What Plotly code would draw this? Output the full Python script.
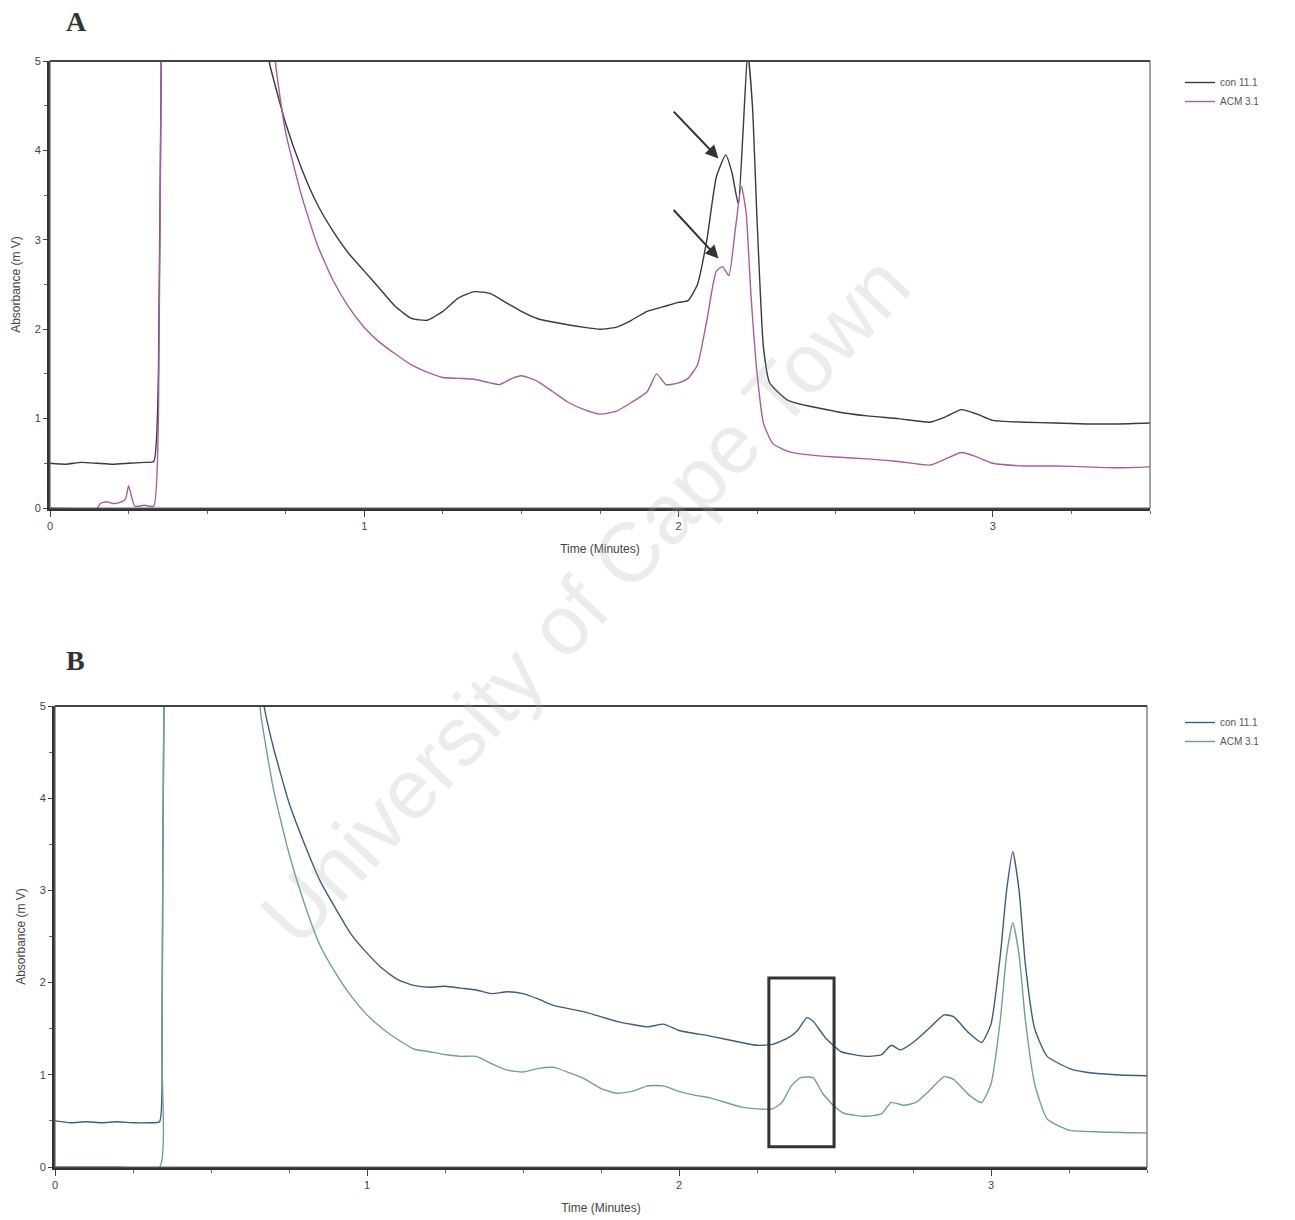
import plotly.graph_objects as go

# ---------------- Panel A data ----------------
a_con_t = [0.0, 0.05, 0.1, 0.15, 0.2, 0.25, 0.3, 0.33, 0.345, 0.355, 0.37, 0.5, 0.68,
           0.70, 0.75, 0.80, 0.85, 0.90, 0.95, 1.00, 1.05, 1.10, 1.15, 1.2, 1.25, 1.3, 1.35,
           1.4, 1.45, 1.5, 1.55, 1.6, 1.7, 1.75, 1.8, 1.85, 1.9, 1.95, 2.0, 2.03, 2.06, 2.09,
           2.12, 2.15, 2.17, 2.19, 2.205, 2.22, 2.235, 2.25, 2.27, 2.29, 2.35, 2.5, 2.6, 2.7,
           2.8, 2.85, 2.9, 2.95, 3.0, 3.1, 3.2, 3.3, 3.4, 3.5]
a_con_v = [0.5, 0.49, 0.51, 0.5, 0.49, 0.5, 0.51, 0.52, 1.5, 5.5, 7.0, 7.0, 5.3,
           4.95, 4.3, 3.8, 3.4, 3.1, 2.85, 2.65, 2.45, 2.25, 2.12, 2.1, 2.2, 2.35, 2.42,
           2.4, 2.3, 2.2, 2.12, 2.08, 2.02, 2.0, 2.02, 2.1, 2.2, 2.25, 2.3, 2.32, 2.5, 3.0,
           3.7, 3.95, 3.75, 3.4, 4.2, 5.1, 4.5, 3.2, 1.8, 1.4, 1.2, 1.08, 1.03, 1.0,
           0.96, 1.02, 1.1, 1.05, 0.98, 0.96, 0.95, 0.94, 0.94, 0.95]

a_acm_t = [0.0, 0.15, 0.16, 0.18, 0.2, 0.22, 0.24, 0.25, 0.26, 0.27, 0.3, 0.33, 0.345, 0.355,
           0.37, 0.5, 0.70, 0.72, 0.75, 0.8, 0.85, 0.9, 0.95, 1.0, 1.05, 1.1, 1.15, 1.2,
           1.25, 1.3, 1.35, 1.4, 1.43, 1.47, 1.5, 1.55, 1.6, 1.65, 1.7, 1.75, 1.8, 1.85,
           1.9, 1.93, 1.96, 2.0, 2.03, 2.06, 2.09, 2.12, 2.14, 2.16, 2.18, 2.2, 2.215, 2.23,
           2.25, 2.27, 2.3, 2.35, 2.4, 2.5, 2.6, 2.7, 2.8, 2.85, 2.9, 2.95, 3.0, 3.1, 3.2,
           3.3, 3.4, 3.5]
a_acm_v = [0.0, 0.0, 0.05, 0.07, 0.05, 0.06, 0.1, 0.25, 0.12, 0.02, 0.03, 0.02, 1.0, 5.5,
           7.0, 7.0, 5.5, 4.9, 4.2, 3.5, 2.95, 2.55, 2.25, 2.02, 1.85, 1.72, 1.6, 1.52,
           1.46, 1.45, 1.44, 1.4, 1.38, 1.45, 1.48, 1.42, 1.3, 1.18, 1.1, 1.05, 1.08, 1.18,
           1.3, 1.5, 1.38, 1.4, 1.45, 1.6, 2.1, 2.65, 2.7, 2.6, 3.1, 3.6, 3.3, 2.4,
           1.5, 0.95, 0.72, 0.63, 0.6, 0.57, 0.55, 0.52, 0.48, 0.55, 0.62, 0.57, 0.5, 0.47, 0.47,
           0.46, 0.45, 0.46]

# ---------------- Panel B data ----------------
b_con_t = [0.0, 0.05, 0.1, 0.15, 0.2, 0.25, 0.3, 0.335, 0.343, 0.35, 0.37, 0.5, 0.65,
           0.67, 0.7, 0.75, 0.8, 0.85, 0.9, 0.95, 1.0, 1.05, 1.1, 1.15, 1.2, 1.25, 1.3, 1.35,
           1.4, 1.45, 1.5, 1.55, 1.6, 1.7, 1.8, 1.9, 1.95, 2.0, 2.1, 2.2, 2.25, 2.3, 2.35,
           2.38, 2.41, 2.43, 2.47, 2.52, 2.6, 2.65, 2.68, 2.71, 2.75, 2.8, 2.85, 2.88, 2.93,
           2.97, 3.0, 3.03, 3.05, 3.07, 3.09, 3.11, 3.14, 3.18, 3.25, 3.3, 3.4, 3.5]
b_con_v = [0.5, 0.48, 0.49, 0.48, 0.49, 0.48, 0.48, 0.49, 1.5, 5.5, 7.0, 7.0, 5.6,
           5.0, 4.55, 3.95, 3.5, 3.1, 2.8, 2.52, 2.32, 2.15, 2.03, 1.97, 1.95, 1.96, 1.94, 1.92,
           1.88, 1.9, 1.88, 1.82, 1.75, 1.68, 1.58, 1.52, 1.55, 1.48, 1.42, 1.35, 1.32, 1.33, 1.4,
           1.48, 1.62, 1.58, 1.4, 1.25, 1.2, 1.22, 1.32, 1.27, 1.35, 1.5, 1.65, 1.63, 1.45,
           1.35, 1.55, 2.3, 3.0, 3.42, 3.0, 2.2, 1.5, 1.2, 1.07, 1.03, 1.0, 0.99]

b_acm_t = [0.0, 0.2, 0.335, 0.343, 0.35, 0.37, 0.5, 0.64, 0.66, 0.7, 0.75, 0.8, 0.85, 0.9,
           0.95, 1.0, 1.05, 1.1, 1.15, 1.2, 1.25, 1.3, 1.35, 1.4, 1.45, 1.5, 1.55, 1.6, 1.65,
           1.7, 1.75, 1.8, 1.85, 1.9, 1.95, 2.0, 2.05, 2.1, 2.15, 2.2, 2.25, 2.3, 2.33, 2.36,
           2.39, 2.43, 2.46, 2.5, 2.53, 2.6, 2.65, 2.68, 2.72, 2.76, 2.8, 2.85, 2.88, 2.93,
           2.97, 3.0, 3.03, 3.05, 3.07, 3.09, 3.11, 3.14, 3.18, 3.25, 3.35, 3.5]
b_acm_v = [0.0, 0.0, 0.0, 1.2, 5.5, 7.0, 7.0, 5.6, 4.9, 4.1, 3.4, 2.85, 2.4, 2.1,
           1.85, 1.65, 1.5, 1.38, 1.28, 1.25, 1.22, 1.2, 1.2, 1.12, 1.05, 1.03, 1.07, 1.08, 1.02,
           0.95, 0.85, 0.8, 0.82, 0.88, 0.88, 0.82, 0.78, 0.75, 0.7, 0.65, 0.63, 0.63, 0.7, 0.88,
           0.97, 0.97, 0.8, 0.65, 0.58, 0.55, 0.58, 0.7, 0.67, 0.7, 0.82, 0.98, 0.95, 0.78,
           0.7, 0.9, 1.6, 2.3, 2.65, 2.3, 1.6, 0.9, 0.52, 0.4, 0.38, 0.37]

series_names = ["con 11.1", "ACM 3.1"]
x_ticks = [0, 1, 2, 3]
y_ticks = [0, 1, 2, 3, 4, 5]

W, H = 1295, 1220
def px_x(p): return p / W
def px_y(p): return 1 - p / H

A_COL = ["#3a3a3a", "#a2609c"]
B_COL = ["#3f5d7a", "#72a090"]

def line(c):
    return dict(color=c, width=1.4, shape="spline", smoothing=0.5)

fig = go.Figure()
fig.add_trace(go.Scatter(x=a_con_t, y=a_con_v, mode="lines", name=series_names[0],
                         line=line(A_COL[0]), xaxis="x", yaxis="y", legend="legend"))
fig.add_trace(go.Scatter(x=a_acm_t, y=a_acm_v, mode="lines", name=series_names[1],
                         line=line(A_COL[1]), xaxis="x", yaxis="y", legend="legend"))
fig.add_trace(go.Scatter(x=b_con_t, y=b_con_v, mode="lines", name=series_names[0],
                         line=line(B_COL[0]), xaxis="x2", yaxis="y2", legend="legend2"))
fig.add_trace(go.Scatter(x=b_acm_t, y=b_acm_v, mode="lines", name=series_names[1],
                         line=line(B_COL[1]), xaxis="x2", yaxis="y2", legend="legend2"))

tickfont = dict(family="Arial, Liberation Sans, sans-serif", size=11, color="#444")
titlefont = dict(family="Arial, Liberation Sans, sans-serif", size=12, color="#444")

def xax(domain, anchor):
    return dict(domain=domain, anchor=anchor, range=[0, 3.5], tickvals=x_ticks,
                ticks="outside", ticklen=6, tickcolor="#444", tickfont=tickfont,
                showgrid=False, zeroline=False, showline=True, linewidth=3, linecolor="#333",
                automargin=False,
                minor=dict(dtick=0.25, ticks="outside", ticklen=3, tickcolor="#666"),
                title=dict(text="Time (Minutes)", font=titlefont, standoff=14))

def yax(domain, anchor):
    return dict(domain=domain, anchor=anchor, range=[0, 5], tickvals=y_ticks,
                ticks="outside", ticklen=4, tickcolor="#444", tickfont=tickfont,
                showgrid=False, zeroline=False, showline=True, linewidth=3, linecolor="#333",
                automargin=False,
                minor=dict(dtick=0.5, ticks="outside", ticklen=3, tickcolor="#666"),
                title=dict(text="Absorbance (m V)", font=titlefont, standoff=12))

fig.update_layout(
    width=W, height=H, margin=dict(l=0, r=0, t=0, b=0, pad=0, autoexpand=False),
    paper_bgcolor="white", plot_bgcolor="white",
    xaxis=xax([px_x(50), px_x(1150)], "y"),
    yaxis=yax([px_y(508), px_y(61)], "x"),
    xaxis2=xax([px_x(55), px_x(1147)], "y2"),
    yaxis2=yax([px_y(1167), px_y(706)], "x2"),
    legend=dict(x=px_x(1180), y=px_y(68), xanchor="left", yanchor="top",
                font=dict(family="Arial, Liberation Sans, sans-serif", size=10, color="#555"),
                itemwidth=30, tracegroupgap=0, bgcolor="rgba(0,0,0,0)"),
    legend2=dict(x=px_x(1180), y=px_y(708), xanchor="left", yanchor="top",
                 font=dict(family="Arial, Liberation Sans, sans-serif", size=10, color="#555"),
                 itemwidth=30, tracegroupgap=0, bgcolor="rgba(0,0,0,0)"),
    showlegend=True,
)

# frames (thin right, darker top)
for xr, yr in [("x", "y"), ("x2", "y2")]:
    fig.add_shape(type="rect", xref=f"{xr} domain", yref=f"{yr} domain", x0=0, x1=1, y0=0, y1=1,
                  line=dict(color="#666", width=1.2), layer="above")
    fig.add_shape(type="line", xref=f"{xr} domain", yref=f"{yr} domain", x0=0, x1=1, y0=1, y1=1,
                  line=dict(color="#444", width=2), layer="above")

# highlight box in B
fig.add_shape(type="rect", xref="x2", yref="y2", x0=2.288, x1=2.497, y0=0.22, y1=2.05,
              line=dict(color="#333", width=3), layer="above")

# arrows in A
for tail_v, head_v in [(4.45, 3.91), (3.35, 2.79)]:
    fig.add_annotation(x=2.127, y=head_v, ax=1.98, ay=tail_v, xref="x", yref="y",
                       axref="x", ayref="y", showarrow=True, arrowhead=2, arrowsize=1.3,
                       arrowwidth=2, arrowcolor="#333", text="")

# panel letters
fig.add_annotation(x=px_x(64), y=px_y(22), xref="paper", yref="paper", text="<b>A</b>",
                   showarrow=False, xanchor="left", yanchor="middle",
                   font=dict(family="Liberation Serif, Times New Roman, serif", size=28, color="#333"))
fig.add_annotation(x=px_x(64), y=px_y(660), xref="paper", yref="paper", text="<b>B</b>",
                   showarrow=False, xanchor="left", yanchor="middle",
                   font=dict(family="Liberation Serif, Times New Roman, serif", size=28, color="#333"))

# watermark
fig.add_annotation(x=px_x(585), y=px_y(600), xref="paper", yref="paper",
                   text="University of Cape Town", showarrow=False, textangle=-47,
                   font=dict(family="Arial, Liberation Sans, sans-serif", size=84,
                             color="rgba(170,170,170,0.22)"))

fig.write_html("out.html")
